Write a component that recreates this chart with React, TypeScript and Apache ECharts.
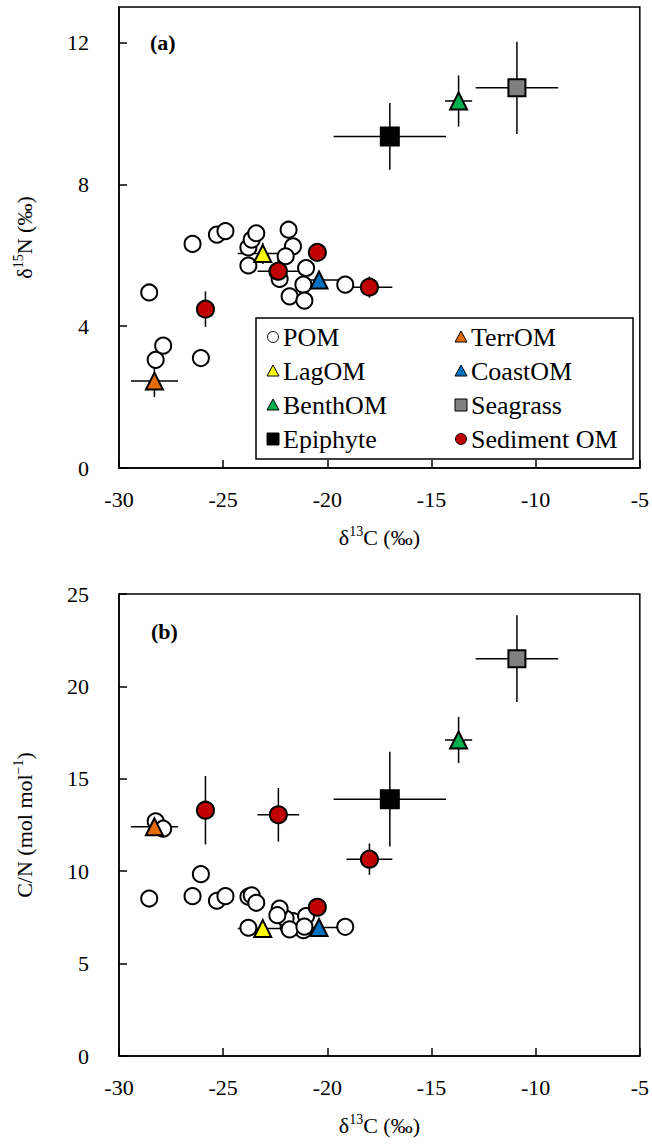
import React, { useEffect, useRef } from "react";
import * as echarts from "echarts";

const FONT = "Liberation Serif";

// δ13C ticks shared by both panels
const xTicks = { min: -30, max: -5, interval: 5 };

// POM samples: δ13C, δ15N, C/N
const pomD13C = [-28.55, -28.24, -27.88, -26.07, -26.47, -25.3, -24.89, -23.79, -23.63, -23.41, -23.79, -21.86, -21.65, -22.0, -22.29, -21.02, -21.15, -21.81, -21.1, -19.14, -22.4];
const pomD15N = [4.95, 3.05, 3.45, 3.1, 6.32, 6.58, 6.68, 6.22, 6.44, 6.62, 5.71, 6.72, 6.25, 5.97, 5.33, 5.64, 5.17, 4.84, 4.72, 5.17, 5.55];
const pomCN = [8.52, 12.7, 12.3, 9.84, 8.65, 8.4, 8.65, 8.62, 8.7, 8.29, 6.94, 7.0, 7.3, 7.44, 7.98, 7.57, 6.81, 6.85, 7.0, 6.99, 7.62];

// End-member sources (mean ± SD)
const terrD13C = [-28.3], terrD13CSd = [1.13];
const terrD15N = [2.45], terrD15NSd = [0.45];
const terrCN = [12.4], terrCNSd = [0.5];

const lagD13C = [-23.1], lagD13CSd = [1.2];
const lagD15N = [6.05], lagD15NSd = [0.3];
const lagCN = [6.9], lagCNSd = [0.2];

const coastD13C = [-20.4], coastD13CSd = [1.1];
const coastD15N = [5.3], coastD15NSd = [0.2];
const coastCN = [6.95], coastCNSd = [0.2];

const benthD13C = [-13.7], benthD13CSd = [0.65];
const benthD15N = [10.35], benthD15NSd = [0.72];
const benthCN = [17.1], benthCNSd = [1.25];

const seagD13C = [-10.9], seagD13CSd = [1.98];
const seagD15N = [10.72], seagD15NSd = [1.3];
const seagCN = [21.5], seagCNSd = [2.35];

const epiD13C = [-17.0], epiD13CSd = [2.7];
const epiD15N = [9.35], epiD15NSd = [0.94];
const epiCN = [13.9], epiCNSd = [2.56];

// Sediment OM stations
const sedD13C = [-25.85, -22.35, -20.48, -17.98];
const sedD13CSd = [0.15, 1.0, 0.15, 1.1];
const sedD15N = [4.48, 5.55, 6.08, 5.1];
const sedD15NSd = [0.5, 0.4, 0.2, 0.3];
const sedCN = [13.3, 13.05, 8.05, 10.65];
const sedCNSd = [1.85, 1.45, 0.3, 0.85];

// Legend layout: two columns of four entries
const legendColumns = [
  ["POM", "LagOM", "BenthOM", "Epiphyte"],
  ["TerrOM", "CoastOM", "Seagrass", "Sediment OM"],
];

type Group = {
  name: string;
  symbol: string;
  size: number;
  color: string;
  x: number[];
  xSd?: number[];
  n: number[];
  nSd?: number[];
  cn: number[];
  cnSd?: number[];
};

const groups: Group[] = [
  { name: "POM", symbol: "circle", size: 16, color: "#ffffff", x: pomD13C, n: pomD15N, cn: pomCN },
  { name: "TerrOM", symbol: "triangle", size: 17, color: "#E36C09", x: terrD13C, xSd: terrD13CSd, n: terrD15N, nSd: terrD15NSd, cn: terrCN, cnSd: terrCNSd },
  { name: "LagOM", symbol: "triangle", size: 17, color: "#FFFF00", x: lagD13C, xSd: lagD13CSd, n: lagD15N, nSd: lagD15NSd, cn: lagCN, cnSd: lagCNSd },
  { name: "CoastOM", symbol: "triangle", size: 17, color: "#0070C0", x: coastD13C, xSd: coastD13CSd, n: coastD15N, nSd: coastD15NSd, cn: coastCN, cnSd: coastCNSd },
  { name: "BenthOM", symbol: "triangle", size: 17, color: "#00B050", x: benthD13C, xSd: benthD13CSd, n: benthD15N, nSd: benthD15NSd, cn: benthCN, cnSd: benthCNSd },
  { name: "Seagrass", symbol: "rect", size: 17, color: "#808080", x: seagD13C, xSd: seagD13CSd, n: seagD15N, nSd: seagD15NSd, cn: seagCN, cnSd: seagCNSd },
  { name: "Epiphyte", symbol: "rect", size: 18, color: "#000000", x: epiD13C, xSd: epiD13CSd, n: epiD15N, nSd: epiD15NSd, cn: epiCN, cnSd: epiCNSd },
  { name: "Sediment OM", symbol: "circle", size: 17, color: "#C00000", x: sedD13C, xSd: sedD13CSd, n: sedD15N, nSd: sedD15NSd, cn: sedCN, cnSd: sedCNSd },
];

function errorBars(xs: number[], ys: number[], xe: number[], ye: number[], axisIndex: number) {
  return {
    type: "custom",
    xAxisIndex: axisIndex,
    yAxisIndex: axisIndex,
    z: 1,
    silent: true,
    encode: { x: 0, y: 1 },
    data: xs.map((x, i) => [x, ys[i], xe[i], ye[i]]),
    renderItem: (_params: any, api: any) => {
      const x = api.value(0);
      const y = api.value(1);
      const ex = api.value(2);
      const ey = api.value(3);
      const style = { stroke: "#000", lineWidth: 1.5 };
      const children: any[] = [];
      if (ex > 0) {
        const a = api.coord([x - ex, y]);
        const b = api.coord([x + ex, y]);
        children.push({ type: "line", shape: { x1: a[0], y1: a[1], x2: b[0], y2: b[1] }, style });
      }
      if (ey > 0) {
        const a = api.coord([x, y - ey]);
        const b = api.coord([x, y + ey]);
        children.push({ type: "line", shape: { x1: a[0], y1: a[1], x2: b[0], y2: b[1] }, style });
      }
      return { type: "group", children };
    },
  };
}

function scatter(g: Group, ys: number[], axisIndex: number) {
  return {
    type: "scatter",
    name: g.name,
    xAxisIndex: axisIndex,
    yAxisIndex: axisIndex,
    symbol: g.symbol,
    symbolSize: g.size,
    z: 3,
    itemStyle: { color: g.color, borderColor: "#000", borderWidth: 2, opacity: 1 },
    data: g.x.map((x, i) => [x, ys[i]]),
  };
}

// Small key marker for a legend entry, centred on (cx, cy)
function keyMarker(g: Group, cx: number, cy: number) {
  const style = { fill: g.color, stroke: "#000", lineWidth: 1 };
  if (g.symbol === "circle") {
    return { type: "circle", z: 20, shape: { cx, cy, r: 5.5 }, style };
  }
  if (g.symbol === "triangle") {
    return {
      type: "polygon",
      z: 20,
      shape: { points: [[cx, cy - 6], [cx + 6, cy + 5], [cx - 6, cy + 5]] },
      style,
    };
  }
  return { type: "rect", z: 20, shape: { x: cx - 6, y: cy - 6, width: 12, height: 12 }, style };
}

const axisCommon = {
  axisLine: { onZero: false, lineStyle: { color: "#000", width: 1.5 } },
  axisTick: { inside: true, length: 8, lineStyle: { color: "#000", width: 1.5 } },
  splitLine: { show: false },
};

const labelStyle = { color: "#000", fontFamily: FONT, fontSize: 22 };
const nameStyle = {
  color: "#000",
  fontFamily: FONT,
  fontSize: 22,
  lineHeight: 26,
  rich: { sup: { fontSize: 14, fontFamily: FONT, color: "#000", verticalAlign: "top", lineHeight: 14 } },
};

export default function App() {
  const ref = useRef<HTMLDivElement>(null);

  useEffect(() => {
    if (!ref.current) return;
    const chart = echarts.init(ref.current, undefined, { renderer: "svg" });

    const series: any[] = [];
    groups.forEach((g) => {
      if (g.xSd && g.nSd && g.cnSd) {
        series.push(errorBars(g.x, g.n, g.xSd, g.nSd, 0));
        series.push(errorBars(g.x, g.cn, g.xSd, g.cnSd, 1));
      }
    });
    groups.forEach((g) => {
      series.push(scatter(g, g.n, 0));
      series.push(scatter(g, g.cn, 1));
    });

    const xAxisFor = (gridIndex: number) => ({
      type: "value",
      gridIndex,
      ...xTicks,
      ...axisCommon,
      axisLabel: { ...labelStyle, margin: 20, showMinLabel: true, showMaxLabel: true },
      name: "δ{sup|13}C (‰)",
      nameLocation: "middle",
      nameGap: 56,
      nameTextStyle: nameStyle,
    });

    // Legend box in panel (a)
    const colX = [273, 461];
    const rowY = [337, 371, 405, 439];
    const legendElements: any[] = [
      {
        type: "rect",
        z: 15,
        shape: { x: 256, y: 318, width: 377, height: 141 },
        style: { fill: "#ffffff", stroke: "#000", lineWidth: 1.5 },
      },
    ];
    legendColumns.forEach((col, ci) => {
      col.forEach((name, ri) => {
        const g = groups.find((gr) => gr.name === name)!;
        legendElements.push(keyMarker(g, colX[ci], rowY[ri]));
        legendElements.push({
          type: "text",
          z: 20,
          x: colX[ci] + 10,
          y: rowY[ri],
          style: {
            text: name,
            fill: "#000",
            font: `26px "${FONT}"`,
            align: "left",
            verticalAlign: "middle",
          },
        });
      });
    });

    chart.setOption({
      animation: false,
      backgroundColor: "#ffffff",
      textStyle: { fontFamily: FONT },
      grid: [
        { left: 119, top: 7, width: 522, height: 461, show: true, borderColor: "#000", borderWidth: 1.5 },
        { left: 119, top: 594, width: 522, height: 462, show: true, borderColor: "#000", borderWidth: 1.5 },
      ],
      xAxis: [xAxisFor(0), xAxisFor(1)],
      yAxis: [
        {
          type: "value",
          gridIndex: 0,
          min: 0,
          max: 13,
          interval: 4,
          ...axisCommon,
          axisLabel: { ...labelStyle, margin: 30, showMaxLabel: false },
          name: "δ{sup|15}N (‰)",
          nameLocation: "middle",
          nameGap: 82,
          nameTextStyle: nameStyle,
        },
        {
          type: "value",
          gridIndex: 1,
          min: 0,
          max: 25,
          interval: 5,
          ...axisCommon,
          axisLabel: { ...labelStyle, margin: 30 },
          name: "C/N (mol mol{sup|−1})",
          nameLocation: "middle",
          nameGap: 82,
          nameTextStyle: nameStyle,
        },
      ],
      graphic: [
        ...legendElements,
        {
          type: "text",
          left: 150,
          top: 31,
          z: 10,
          style: { text: "(a)", fill: "#000", font: `bold 22px "${FONT}"` },
        },
        {
          type: "text",
          left: 151,
          top: 620,
          z: 10,
          style: { text: "(b)", fill: "#000", font: `bold 22px "${FONT}"` },
        },
      ],
      series,
    });

    return () => chart.dispose();
  }, []);

  return (
    <div
      ref={ref}
      style={{ position: "absolute", left: 0, top: 0, width: 652, height: 1144, background: "#fff" }}
    />
  );
}
